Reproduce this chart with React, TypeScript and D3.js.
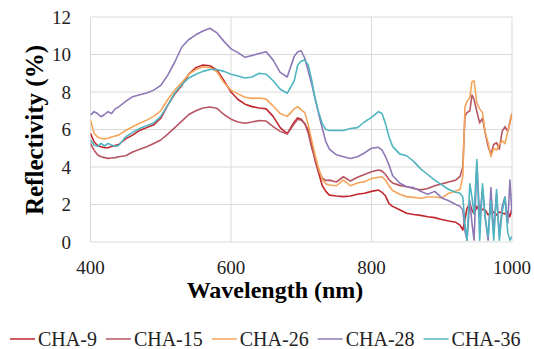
import React, { useMemo } from "react";
import * as d3 from "d3";

const wavelengths = [
  400, 405, 410, 415, 420, 425, 430, 435, 440,
  450, 460, 470, 480, 490, 500, 510, 520, 530, 540, 550, 560, 570, 580, 590, 600,
  610, 620, 630, 640, 650, 660, 670, 680, 690,
  695, 700, 705, 710, 715, 720, 725, 730, 735, 740,
  750, 760, 770, 780, 790, 800, 810,
  815, 820, 825, 830,
  840, 850, 860, 870, 880, 890, 900, 910, 920,
  926, 930, 933, 936, 940, 943, 946, 950, 954, 958, 962, 966, 970, 974, 978, 982, 986, 990, 994, 997, 1000,
];

const cha9 = [
  5.8, 5.35, 5.15, 5.08, 5.03, 5.03, 5.1, 5.15, 5.2,
  5.5, 5.7, 5.95, 6.1, 6.25, 6.6, 7.3, 7.9, 8.35, 8.95, 9.3, 9.44, 9.4, 9.17, 8.6, 8.0,
  7.6, 7.35, 7.22, 7.15, 7.1, 6.7, 6.1, 5.78, 6.4,
  6.62, 6.55, 6.3, 5.97, 5.2, 4.3, 3.65, 3.0, 2.7, 2.5,
  2.45, 2.42, 2.45, 2.55, 2.6, 2.7, 2.77,
  2.65, 2.45, 2.05, 1.9,
  1.72, 1.53, 1.47, 1.42, 1.35, 1.3, 1.2, 1.12, 1.05,
  0.9, 0.64, 1.2, 1.8, 2.06, 1.7, 1.5, 1.9, 1.6, 1.75, 1.7, 1.45, 1.55, 1.6, 1.44, 1.6, 1.55, 1.5, 1.6, 1.35, 1.8,
];

const cha15 = [
  5.26, 4.9, 4.65, 4.55, 4.5, 4.46, 4.48, 4.5, 4.55,
  4.6, 4.8, 4.95, 5.08, 5.25, 5.44, 5.75, 6.1, 6.45, 6.8, 7.0, 7.15, 7.2, 7.13, 6.8, 6.55,
  6.4, 6.33, 6.4, 6.48, 6.45, 6.15, 5.9, 5.76, 6.3,
  6.55, 6.5, 6.33, 5.8, 5.0, 4.4, 3.75, 3.4, 3.28, 3.3,
  3.2, 3.48, 3.25, 3.45, 3.6, 3.75, 3.84,
  3.78, 3.6, 3.32, 3.15,
  3.02, 2.95, 2.85, 2.78, 2.85, 3.0, 3.1, 3.2, 3.3,
  3.5, 4.0, 6.7, 6.9, 7.0, 7.84, 7.6, 6.95, 6.35, 6.6, 5.8, 5.1, 4.7, 5.2, 5.3, 4.95, 5.9, 6.15, 5.9, 6.4, 6.87,
];

const cha26 = [
  6.5, 5.8, 5.6, 5.53, 5.5, 5.53, 5.6, 5.65, 5.7,
  5.95, 6.15, 6.33, 6.5, 6.7, 7.0, 7.6, 8.1, 8.5, 8.95, 9.2, 9.35, 9.3, 9.08, 8.5, 8.1,
  7.9, 7.72, 7.66, 7.68, 7.62, 7.25, 6.85, 6.7, 7.1,
  7.22, 7.05, 6.9, 6.25, 5.4, 4.6, 3.9, 3.35, 3.1, 3.04,
  3.0, 3.3, 3.0, 3.15, 3.22, 3.38, 3.45,
  3.48, 3.3, 2.98, 2.75,
  2.55, 2.42, 2.38, 2.33, 2.4, 2.4, 2.35, 2.6, 2.72,
  2.8, 3.5, 7.2, 7.5, 7.7, 8.55, 8.6, 7.4, 7.1, 6.9, 5.8, 5.3, 4.55, 5.0, 4.9, 5.2, 5.4, 5.25, 5.9, 6.3, 6.87,
];

const cha28 = [
  6.77, 6.95, 6.85, 6.68, 6.8, 6.95, 6.85, 7.1, 7.2,
  7.5, 7.75, 7.85, 7.95, 8.1, 8.35, 8.9, 9.6, 10.4, 10.8, 11.05, 11.25, 11.4, 11.15, 10.7, 10.3,
  10.1, 9.85, 9.95, 10.05, 10.15, 9.7, 9.05, 8.8, 9.9,
  10.15, 10.2, 9.8, 9.1, 8.4, 7.6, 6.8, 6.05, 5.35, 4.95,
  4.65, 4.55, 4.45, 4.55, 4.75, 5.0, 5.05,
  4.9, 4.55, 4.1, 3.55,
  3.15, 2.95, 2.9, 2.7, 2.55, 2.7, 2.35, 2.2, 2.0,
  1.9, 1.7, 0.6, 0.1, 2.2, 1.0, 0.1, 4.2, 1.35, 2.8, 1.2, 0.1, 2.9, 0.5, 2.6, 0.3, 1.9, 2.4, 1.0, 3.3, 1.5,
];

const cha36 = [
  5.44, 5.17, 5.1, 5.26, 5.12, 5.26, 5.17, 5.1, 5.15,
  5.6, 5.85, 6.05, 6.2, 6.35, 6.7, 7.3, 7.95, 8.4, 8.75, 8.95, 9.1, 9.2, 9.2, 9.1, 8.95,
  8.85, 8.75, 8.8, 9.0, 8.95, 8.6, 8.15, 7.93, 8.6,
  9.44, 9.65, 9.7, 9.44, 8.6, 7.6, 6.9, 6.3, 6.0, 5.95,
  5.95, 5.95, 6.05, 6.1, 6.4, 6.65, 6.95,
  6.85, 6.3, 5.6, 5.1,
  4.7, 4.6, 4.3, 3.9, 3.6, 3.3, 3.05, 2.8, 2.65,
  2.6, 2.4, 1.0, 0.1, 3.1, 2.4, 1.5, 4.4, 0.1, 3.1, 1.3, 0.3, 2.2, 0.1, 2.8, 0.1, 1.6, 2.4, 0.5, 0.1, 0.3,
];

const seriesNames = ["CHA-9", "CHA-15", "CHA-26", "CHA-28", "CHA-36"];
const seriesValues = [cha9, cha15, cha26, cha28, cha36];
const seriesColors = ["#C1272D", "#B85562", "#F5A55A", "#8E78B6", "#4FB5C0"];

const xTicks = [400, 600, 800, 1000];
const yTicks = [0, 2, 4, 6, 8, 10, 12];

const W = 534;
const H = 349;
const M = { left: 90.5, right: 512, top: 17, bottom: 242 };
const SERIF = "Liberation Serif";

export default function App() {
  const x = d3.scaleLinear().domain([400, 1000]).range([M.left, M.right]);
  const y = d3.scaleLinear().domain([0, 12]).range([M.bottom, M.top]);

  const line = d3
    .line<number>()
    .x((_, i) => x(wavelengths[i]))
    .y((d) => y(Math.max(0, d)))
    .curve(d3.curveLinear);

  const legendItems = useMemo(() => {
    const ctx = document.createElement("canvas").getContext("2d");
    let cx = 10;
    return seriesNames.map((name) => {
      let w = name.length * 11.5;
      if (ctx) {
        ctx.font = `20px "Liberation Serif"`;
        w = ctx.measureText(name).width;
      }
      const item = { x: cx, w };
      cx = cx + 28 + w + 9;
      return item;
    });
  }, []);

  const ts = { fontFamily: SERIF };

  return (
    <svg width={W} height={H} style={{ position: "absolute", left: 0, top: 0, background: "#fff" }}>
      <defs>
        <clipPath id="plot">
          <rect x={M.left} y={M.top - 2} width={M.right - M.left} height={M.bottom - M.top + 2} />
        </clipPath>
      </defs>
      <rect width={W} height={H} fill="#fff" />
      {yTicks.map((t) => (
        <line key={"gy" + t} x1={M.left} x2={M.right} y1={y(t)} y2={y(t)} stroke="#D9D9D9" strokeWidth={1} />
      ))}
      {xTicks.map((t) => (
        <line key={"gx" + t} x1={x(t)} x2={x(t)} y1={M.top} y2={M.bottom} stroke="#D9D9D9" strokeWidth={1} />
      ))}
      {yTicks.map((t) => (
        <text key={"ly" + t} x={71} y={y(t)} dy="0.35em" textAnchor="end" fontSize={19} fill="#222" style={ts}>
          {t}
        </text>
      ))}
      {xTicks.map((t) => (
        <text key={"lx" + t} x={x(t)} y={274} textAnchor="middle" fontSize={19} fill="#222" style={ts}>
          {t}
        </text>
      ))}
      <g clipPath="url(#plot)">
        {seriesValues.map((vals, i) => (
          <path
            key={seriesNames[i]}
            d={line(vals) || ""}
            fill="none"
            stroke={seriesColors[i]}
            strokeWidth={1.6}
            strokeLinejoin="round"
          />
        ))}
      </g>
      <text x={275} y={298} textAnchor="middle" fontSize={24} fontWeight="bold" fill="#000" style={ts}>
        Wavelength (nm)
      </text>
      <text
        transform={`translate(43, 130) rotate(-90)`}
        textAnchor="middle"
        fontSize={25}
        fontWeight="bold"
        fill="#000"
        style={ts}
      >
        Reflectivity (%)
      </text>
      {seriesNames.map((name, i) => (
        <g key={"lg" + name}>
          <line
            x1={legendItems[i].x}
            x2={legendItems[i].x + 25}
            y1={339}
            y2={339}
            stroke={seriesColors[i]}
            strokeWidth={1.5}
          />
          <text x={legendItems[i].x + 28} y={346} fontSize={20} fill="#222" style={ts}>
            {name}
          </text>
        </g>
      ))}
    </svg>
  );
}
